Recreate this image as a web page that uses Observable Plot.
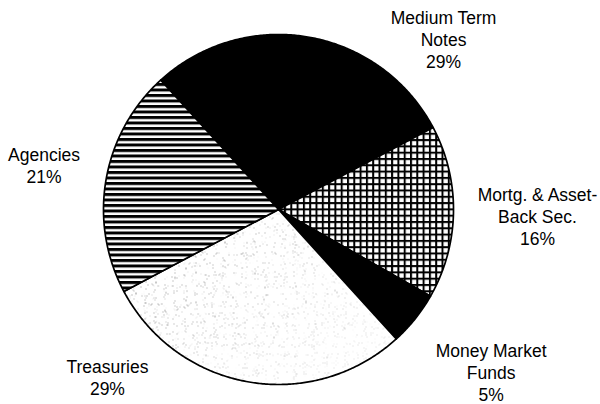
<!DOCTYPE html>
<html><head><meta charset="utf-8">
<script src="https://cdn.jsdelivr.net/npm/d3@7"></script>
<script src="https://cdn.jsdelivr.net/npm/@observablehq/plot@0.6"></script>
<style>body{margin:0;background:#fff;}</style>
</head><body><div id="chart"></div>
<script>
// ---- data ----
const categories = ["Medium Term Notes", "Mortg. & Asset-Back Sec.", "Money Market Funds", "Treasuries", "Agencies"];
const shares = [29, 16, 5, 29, 21];
const labelLines = [["Medium Term", "Notes"], ["Mortg. & Asset-", "Back Sec."], ["Money Market", "Funds"], ["Treasuries"], ["Agencies"]];

// ---- styles / layout ----
const fills = ["black", "url(#grid)", "black", "url(#stipple)", "url(#stripes)"];
const labelNudge = [[135, 2], [84, 4], [76, 53], [-141, -5], [-62, -14]];
const startDeg = -42.3;

const a0 = startDeg * Math.PI / 180;
const arcs = d3.pie().sort(null).startAngle(a0).endAngle(a0 + 2 * Math.PI)(shares);

const points = [];
arcs.forEach((a, i) => {
  const n = Math.max(2, Math.ceil((a.endAngle - a.startAngle) / (Math.PI / 360)));
  points.push({key: categories[i], x: 0, y: 0, fill: fills[i]});
  for (let k = 0; k <= n; k++) {
    const t = a.startAngle + (a.endAngle - a.startAngle) * k / n;
    points.push({key: categories[i], x: Math.sin(t), y: Math.cos(t), fill: fills[i]});
  }
  points.push({key: categories[i], x: 0, y: 0, fill: fills[i]});
});

const labels = arcs.map((a, i) => {
  const m = (a.startAngle + a.endAngle) / 2;
  return {x: Math.sin(m), y: Math.cos(m), text: [...labelLines[i], shares[i] + "%"].join("\n")};
});

const chart = Plot.plot({
  width: 600,
  height: 404,
  marginLeft: 103,
  marginRight: 147,
  marginTop: 34,
  marginBottom: 20,
  x: {domain: [-1, 1], axis: null},
  y: {domain: [-1, 1], axis: null},
  color: {type: "identity"},
  style: {fontFamily: "'Liberation Sans', Arial, sans-serif", background: "white", overflow: "visible"},
  marks: [
    Plot.line(points, {x: "x", y: "y", z: "key", fill: "fill", stroke: "black", strokeWidth: 1.7, strokeLinejoin: "round", curve: "linear"}),
    ...labels.map((l, i) => Plot.text([l], {
      x: "x", y: "y", text: "text", dx: labelNudge[i][0], dy: labelNudge[i][1],
      fontSize: 17.5, lineHeight: 1.26, fill: "black", textAnchor: "middle", lineAnchor: "middle"
    }))
  ]
});

// patterns
const defs = d3.select(chart).insert("defs", ":first-child");
const grid = defs.append("pattern").attr("id", "grid").attr("patternUnits", "userSpaceOnUse").attr("width", 6.3).attr("height", 6.3);
grid.append("rect").attr("width", 6.3).attr("height", 6.3).attr("fill", "white");
grid.append("rect").attr("width", 6.3).attr("height", 2).attr("fill", "black");
grid.append("rect").attr("width", 2).attr("height", 6.3).attr("fill", "black");

const stripes = defs.append("pattern").attr("id", "stripes").attr("patternUnits", "userSpaceOnUse").attr("width", 8).attr("height", 5.5);
stripes.append("rect").attr("width", 8).attr("height", 5.5).attr("fill", "white");
stripes.append("rect").attr("width", 8).attr("height", 3).attr("fill", "black");

const f = defs.append("filter").attr("id", "noise").attr("x", 0).attr("y", 0).attr("width", 1).attr("height", 1);
f.append("feTurbulence").attr("type", "fractalNoise").attr("baseFrequency", 0.9).attr("numOctaves", 2).attr("seed", 7).attr("result", "n");
f.append("feColorMatrix").attr("in", "n").attr("type", "matrix")
  .attr("values", "0 0 0 0 0.25  0 0 0 0 0.25  0 0 0 0 0.25  18 0 0 0 -12.2");

const grad = defs.append("linearGradient").attr("id", "fade").attr("gradientUnits", "userSpaceOnUse")
  .attr("x1", 170).attr("y1", 230).attr("x2", 330).attr("y2", 390);
grad.append("stop").attr("offset", 0).attr("stop-color", "white").attr("stop-opacity", 1);
grad.append("stop").attr("offset", 1).attr("stop-color", "white").attr("stop-opacity", 0.3);
const mask = defs.append("mask").attr("id", "fadeMask").attr("maskUnits", "userSpaceOnUse")
  .attr("x", 0).attr("y", 0).attr("width", 600).attr("height", 404);
mask.append("rect").attr("width", 600).attr("height", 404).attr("fill", "url(#fade)");

const st = defs.append("pattern").attr("id", "stipple").attr("patternUnits", "userSpaceOnUse").attr("width", 600).attr("height", 404);
st.append("rect").attr("width", 600).attr("height", 404).attr("fill", "white");
st.append("rect").attr("width", 600).attr("height", 404).attr("filter", "url(#noise)").attr("mask", "url(#fadeMask)");

document.getElementById("chart").appendChild(chart);
</script>
</body></html>
